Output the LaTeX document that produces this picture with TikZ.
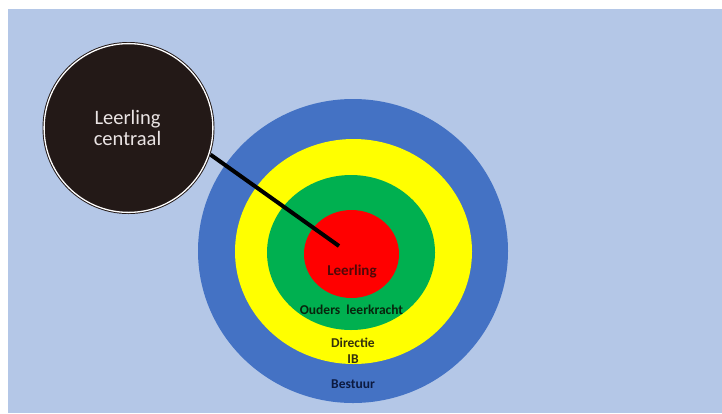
\documentclass[tikz,border=0pt]{standalone}
\usepackage{fontspec}
\setmainfont{Carlito}
\usetikzlibrary{shapes.geometric}
\definecolor{bgblue}{HTML}{B4C7E7}
\definecolor{ringblue}{HTML}{4472C4}
\definecolor{ringyellow}{HTML}{FFFF00}
\definecolor{ringgreen}{HTML}{00B050}
\definecolor{ringred}{HTML}{FF0000}
\definecolor{darkcirc}{HTML}{231917}
\definecolor{txtred}{HTML}{500808}
\definecolor{txtgreen}{HTML}{08240C}
\definecolor{txtyellow}{HTML}{33300C}
\definecolor{txtblue}{HTML}{0C1A40}
\definecolor{lighttxt}{HTML}{EAE4E4}
\tikzset{
  ring/.style={ellipse, draw=none, inner sep=0pt},
  lbl/.style={font=\fontsize{13.5}{16}\selectfont\bfseries, align=center, inner sep=0pt},
}
\begin{document}
\begin{tikzpicture}[x=1pt,y=-1pt]
\useasboundingbox (0,0) rectangle (722,413);
\fill[white] (0,0) rectangle (722,413);
\fill[bgblue] (8,9) rectangle (722,413);
% bullseye
\node[ring, fill=ringblue, minimum width=310pt, minimum height=304pt] (bestuur) at (353,251) {};
\node[ring, fill=ringyellow, minimum width=237pt, minimum height=225pt] (directie) at (353.5,251.5) {};
\node[ring, fill=ringgreen, minimum width=168pt, minimum height=155pt] (ouders) at (351,252.5) {};
\node[ring, fill=ringred, minimum width=95pt, minimum height=88pt] (leerling) at (351.5,254) {};
% labels
\node[lbl, text=txtred, font=\fontsize{15}{18}\selectfont\bfseries] (tL) at (352,272) {Leerling};
\node[lbl, text=txtgreen] (tO) at (351.5,310) {Ouders\ \ leerkracht};
\node[lbl, text=txtyellow] (tD) at (353,351) {Directie\\IB};
\node[lbl, text=txtblue] (tB) at (353,384) {Bestuur};
% big dark circle
\node[circle, fill=darkcirc, minimum size=172pt, inner sep=0pt] (cent) at (128.5,128) {};
\draw[white, line width=1.3pt] (cent.center) circle[radius=84.4];
\node[text=lighttxt, font=\fontsize{20.5}{21}\selectfont, align=center] (ctext) at (127.5,127.5) {Leerling\\centraal};
% pointer
\coordinate (tip) at (339,246);
\draw[black, line width=4pt] (cent.-18) -- (tip);
\end{tikzpicture}
\end{document}
